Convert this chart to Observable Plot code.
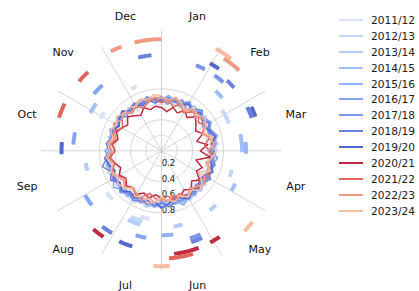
<!DOCTYPE html>
<html><head><meta charset="utf-8">
<script src="https://cdn.jsdelivr.net/npm/d3@7"></script>
<script src="https://cdn.jsdelivr.net/npm/@observablehq/plot@0.6"></script>
<style>
body{margin:0;background:#fff;font-family:"DejaVu Sans",sans-serif;}
#wrap{position:relative;width:419px;height:291px;}
#legend{position:absolute;left:339px;top:12px;font-size:10.6px;color:#222;}
.row{display:flex;align-items:center;height:15.9px;}
.sw{width:24px;height:2px;margin-right:8px;}
</style></head>
<body><div id="wrap"><div id="chart"></div><div id="legend"></div></div>
<script>
const seasons = ["2011/12","2012/13","2013/14","2014/15","2015/16","2016/17","2017/18","2018/19","2019/20","2020/21","2021/22","2022/23","2023/24"];
const colors = ["#d8e2f4","#c6d6f6","#b5cbf8","#a2bef8","#95b2f5","#86a5f0","#7a95ea","#6a82dd","#5566cc","#c02a40","#e0675c","#ef9c82","#f5bba4"];
const months = ["Jan","Feb","Mar","Apr","May","Jun","Jul","Aug","Sep","Oct","Nov","Dec"];
const rTicks = [0.2,0.4,0.6,0.8];
const rTickLabels = ["0.2","0.4","0.6","0.8"];
// weekly-ish values (48 per season, clockwise from Jan 1)
const v2011 = [0.66,0.71,0.64,0.69,0.73,0.65,0.70,0.67,0.72,0.65,0.69,0.74,0.67,0.70,0.65,0.71,0.68,0.73,0.66,0.70,0.75,0.68,0.72,0.69,0.74,0.70,0.76,0.71,0.78,0.72,0.76,0.70,0.74,0.69,0.72,0.67,0.71,0.66,0.70,0.64,0.68,0.72,0.66,0.69,0.64,0.68,0.71,0.65];
const v2012 = [0.64,0.69,0.62,0.67,0.71,0.64,0.68,0.73,0.66,0.70,0.63,0.68,0.72,0.65,0.69,0.66,0.71,0.64,0.69,0.73,0.67,0.70,0.65,0.71,0.74,0.68,0.72,0.66,0.70,0.75,0.69,0.72,0.66,0.70,0.64,0.69,0.73,0.66,0.70,0.63,0.68,0.65,0.70,0.62,0.67,0.71,0.64,0.68];
const v2013 = [0.68,0.63,0.70,0.66,0.72,0.64,0.69,0.65,0.71,0.67,0.74,0.66,0.70,0.63,0.68,0.72,0.66,0.70,0.64,0.69,0.73,0.67,0.71,0.65,0.70,0.74,0.68,0.72,0.67,0.71,0.66,0.73,0.69,0.75,0.68,0.71,0.65,0.70,0.67,0.72,0.65,0.69,0.63,0.68,0.71,0.65,0.70,0.66];
const v2014 = [0.65,0.70,0.66,0.61,0.68,0.72,0.65,0.70,0.74,0.67,0.71,0.64,0.69,0.66,0.72,0.67,0.62,0.68,0.73,0.66,0.70,0.76,0.68,0.72,0.66,0.71,0.74,0.68,0.64,0.70,0.67,0.72,0.65,0.69,0.74,0.67,0.71,0.66,0.70,0.63,0.68,0.72,0.66,0.70,0.64,0.69,0.72,0.66];
const v2015 = [0.69,0.64,0.71,0.67,0.62,0.69,0.73,0.66,0.71,0.64,0.68,0.72,0.65,0.61,0.67,0.71,0.65,0.70,0.66,0.72,0.68,0.74,0.67,0.70,0.65,0.71,0.68,0.73,0.66,0.70,0.76,0.69,0.73,0.66,0.71,0.68,0.73,0.65,0.70,0.63,0.68,0.72,0.66,0.70,0.64,0.68,0.72,0.66];
const v2016 = [0.66,0.72,0.67,0.63,0.70,0.65,0.71,0.68,0.64,0.70,0.75,0.67,0.62,0.69,0.65,0.72,0.67,0.63,0.70,0.65,0.72,0.68,0.71,0.64,0.69,0.73,0.67,0.71,0.66,0.73,0.70,0.78,0.71,0.67,0.73,0.69,0.65,0.71,0.67,0.64,0.70,0.66,0.72,0.65,0.69,0.64,0.70,0.67];
const v2017 = [0.70,0.64,0.71,0.66,0.73,0.66,0.62,0.69,0.73,0.67,0.63,0.70,0.66,0.73,0.68,0.64,0.71,0.66,0.62,0.68,0.65,0.71,0.64,0.69,0.73,0.66,0.71,0.67,0.72,0.68,0.75,0.69,0.73,0.66,0.71,0.68,0.64,0.70,0.66,0.72,0.65,0.70,0.63,0.68,0.71,0.66,0.72,0.67];
const v2018 = [0.63,0.69,0.65,0.71,0.63,0.68,0.74,0.66,0.71,0.65,0.72,0.67,0.63,0.66,0.71,0.66,0.73,0.68,0.64,0.70,0.65,0.63,0.69,0.73,0.67,0.72,0.66,0.70,0.74,0.69,0.73,0.68,0.76,0.70,0.79,0.71,0.67,0.72,0.66,0.70,0.64,0.69,0.72,0.65,0.70,0.66,0.71,0.65];
const v2019 = [0.66,0.61,0.68,0.64,0.70,0.63,0.70,0.66,0.62,0.68,0.72,0.64,0.69,0.63,0.67,0.71,0.64,0.61,0.68,0.65,0.71,0.66,0.63,0.69,0.74,0.67,0.71,0.65,0.70,0.66,0.73,0.67,0.71,0.65,0.70,0.74,0.67,0.71,0.65,0.69,0.63,0.68,0.72,0.65,0.69,0.63,0.68,0.62];
const v2020 = [0.56,0.51,0.58,0.53,0.60,0.54,0.62,0.56,0.51,0.58,0.47,0.60,0.50,0.63,0.46,0.57,0.52,0.62,0.55,0.63,0.58,0.64,0.60,0.66,0.61,0.57,0.63,0.59,0.65,0.60,0.64,0.58,0.63,0.57,0.62,0.67,0.60,0.64,0.58,0.63,0.59,0.55,0.62,0.57,0.53,0.60,0.55,0.58];
const v2021 = [0.62,0.67,0.59,0.65,0.57,0.63,0.68,0.60,0.66,0.58,0.64,0.56,0.62,0.67,0.60,0.66,0.69,0.62,0.67,0.61,0.68,0.60,0.66,0.59,0.64,0.62,0.57,0.64,0.68,0.61,0.66,0.59,0.65,0.69,0.62,0.67,0.60,0.65,0.61,0.67,0.58,0.64,0.69,0.62,0.66,0.60,0.65,0.68];
const v2022 = [0.68,0.62,0.69,0.64,0.59,0.66,0.61,0.68,0.63,0.57,0.64,0.69,0.60,0.66,0.62,0.68,0.63,0.70,0.65,0.61,0.68,0.64,0.59,0.66,0.62,0.67,0.63,0.69,0.64,0.60,0.67,0.62,0.68,0.71,0.65,0.70,0.64,0.68,0.62,0.67,0.71,0.65,0.69,0.63,0.68,0.72,0.66,0.70];
const v2023 = [0.71,0.66,0.72,0.67,0.62,0.69,0.65,0.71,0.66,0.60,0.68,0.63,0.70,0.66,0.59,0.67,0.55,0.66,0.71,0.64,0.69,0.62,0.68,0.64,0.60,0.67,0.70,0.64,0.68,0.62,0.67,0.71,0.65,0.70,0.66,0.72,0.67,0.70,0.65,0.71,0.67,0.73,0.68,0.70,0.66,0.72,0.69,0.73];
const seriesValues = [v2011,v2012,v2013,v2014,v2015,v2016,v2017,v2018,v2019,v2020,v2021,v2022,v2023];
// outer event arcs: season index, start angle, end angle (degrees clockwise from Jan 1)
const ringRadius = [0.89,0.94,0.99,1.04,1.09,1.14,1.19,1.24,1.29,1.34,1.39,1.44,1.49];
const arcSeason = [0,0,0,0, 1,1,1, 2,2,2,2, 3,3,3,3, 4,4, 5,5,5,5, 6,6,6, 7,7,7,7,7, 8,8,8,8, 9,9,9, 10,10,10, 11,11,11, 12,12,12];
const arcStart  = [225,190,298,334, 195,105,56, 196,255,164,135, 298,114,78,42, 172,84, 310,274,232,190, 155,35,22, 346,211,155,63,43, 268,197,64,29, 214,159,146, 310,288,163, 333,346,34, 176,128,28];
const arcEnd    = [233,198,304,339, 205,111,68, 206,261,171,141, 306,120,91,49, 180,92, 318,282,240,197, 162,42,28, 354,218,162,70,49, 275,205,70,35, 221,173,152, 317,296,176, 339,360,44, 184,134,37];

const rad = d => d*Math.PI/180;
const px = (deg,r) => r*Math.sin(rad(deg));
const py = (deg,r) => r*Math.cos(rad(deg));

const lineRows = [];
seriesValues.forEach((vals,si) => {
  const n = vals.length;
  for (let k=0;k<=n;k++){ const v = vals[k%n], a = k*360/n; lineRows.push({s:seasons[si], x:px(a,v), y:py(a,v)}); }
});
const arcRows = [];
arcSeason.forEach((si,j) => {
  const a0 = arcStart[j], a1 = arcEnd[j], r = ringRadius[si];
  const steps = Math.max(2, Math.ceil(a1-a0));
  for (let t=0;t<=steps;t++){ const a = a0+(a1-a0)*t/steps; arcRows.push({id:j, s:seasons[si], x:px(a,r), y:py(a,r)}); }
});
const gridRows = [];
rTicks.forEach((r,i)=>{ for(let a=0;a<=360;a+=2) gridRows.push({id:i,x:px(a,r),y:py(a,r)}); });
const spokes = d3.range(0,360,30).map(a=>({x1:0,y1:0,x2:px(a,1.55),y2:py(a,1.55)}));
const monthRows = months.map((m,i)=>({m, x:px(15+30*i,1.795), y:py(15+30*i,1.795)}));
const tickRows = rTicks.map((r,i)=>({t:rTickLabels[i], x:0, y:-r}));

const U = 77.5, cx = 161, cy = 150.3, W = 419, H = 291;
const chart = Plot.plot({
  width: W, height: H, margin: 0,
  style: {fontFamily: "DejaVu Sans, sans-serif", background: "#fff"},
  x: {domain: [-cx/U, (W-cx)/U], axis: null},
  y: {domain: [-(H-cy)/U, cy/U], axis: null},
  color: {domain: seasons, range: colors},
  marks: [
    Plot.line(gridRows, {x:"x", y:"y", z:"id", stroke:"#d0d0d0", strokeWidth:0.9}),
    Plot.link(spokes, {x1:"x1", y1:"y1", x2:"x2", y2:"y2", stroke:"#d0d0d0", strokeWidth:0.9}),
    Plot.text(tickRows, {x:"x", y:"y", text:"t", dx:7, dy:-3, fontSize:8.5, fill:"#222"}),
    Plot.line(lineRows, {x:"x", y:"y", z:"s", stroke:"s", strokeWidth:1.5, curve:"linear"}),
    Plot.line(arcRows, {x:"x", y:"y", z:"id", stroke:"s", strokeWidth:4, strokeLinecap:"butt"}),
    Plot.text(monthRows, {x:"x", y:"y", text:"m", fontSize:11, fill:"#111"})
  ]
});
document.getElementById("chart").appendChild(chart);
const lg = document.getElementById("legend");
seasons.forEach((s,i)=>{
  const row = document.createElement("div"); row.className="row";
  const sw = document.createElement("div"); sw.className="sw"; sw.style.background=colors[i];
  const tx = document.createElement("span"); tx.textContent=s;
  row.appendChild(sw); row.appendChild(tx); lg.appendChild(row);
});
</script></body></html>
